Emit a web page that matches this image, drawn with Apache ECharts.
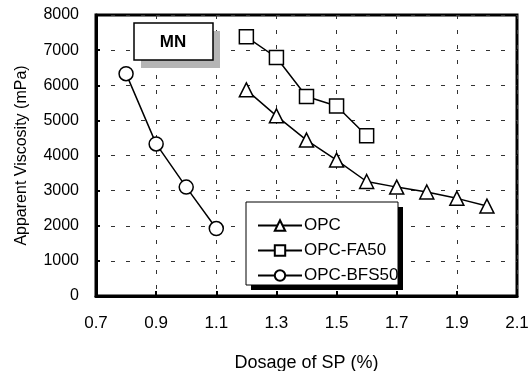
<!DOCTYPE html>
<html><head><meta charset="utf-8">
<script src="https://cdn.jsdelivr.net/npm/echarts@6/dist/echarts.min.js"></script>
<style>html,body{margin:0;padding:0;background:#fff}#c{width:531px;height:371px}</style>
</head><body><div id="c"></div>
<script>
const xOPC = [1.2, 1.3, 1.4, 1.5, 1.6, 1.7, 1.8, 1.9, 2.0];
const yOPC = [5870, 5130, 4440, 3870, 3260, 3100, 2960, 2780, 2560];
const xFA = [1.2, 1.3, 1.4, 1.5, 1.6];
const yFA = [7380, 6790, 5680, 5410, 4560];
const xBFS = [0.8, 0.9, 1.0, 1.1];
const yBFS = [6330, 4330, 3100, 1920];
const seriesNames = ['OPC', 'OPC-FA50', 'OPC-BFS50'];
const xTitle = 'Dosage of SP (%)';
const yTitle = 'Apparent Viscosity (mPa)';
const boxLabel = 'MN';

const pair = (xs, ys) => xs.map((x, i) => [x, ys[i]]);
const font = 'Liberation Sans, Arial, sans-serif';
const chart = echarts.init(document.getElementById('c'), null, {renderer: 'canvas'});
const common = {
  type: 'line', symbolSize: 14, lineStyle: {color: '#000', width: 1.5},
  itemStyle: {color: '#fff', borderColor: '#000', borderWidth: 1.5},
  color: '#000', z: 5
};
chart.setOption({
  animation: false,
  backgroundColor: '#fff',
  grid: {left: 96, top: 15, width: 421, height: 281, show: true, borderColor: '#000', borderWidth: 3, backgroundColor: 'transparent', containLabel: false, outerBoundsMode: 'none'},
  xAxis: {
    type: 'value', min: 0.7, max: 2.1, interval: 0.2,
    name: xTitle, nameLocation: 'middle', nameGap: 58,
    nameTextStyle: {fontFamily: font, fontSize: 18, color: '#000'},
    axisLine: {lineStyle: {color: '#000', width: 3}},
    axisTick: {inside: true, length: 5, lineStyle: {color: '#000', width: 2}},
    axisLabel: {fontFamily: font, fontSize: 17, color: '#000', margin: 19, formatter: v => v.toFixed(1)},
    splitLine: {show: true, lineStyle: {color: '#333', width: 1, type: [4, 11]}}
  },
  yAxis: {
    type: 'value', min: 0, max: 8000, interval: 1000,
    name: yTitle, nameLocation: 'middle', nameGap: 66,
    nameTextStyle: {fontFamily: font, fontSize: 16, color: '#000'},
    axisLine: {lineStyle: {color: '#000', width: 3}},
    axisTick: {inside: true, length: 4, lineStyle: {color: '#000', width: 2}},
    axisLabel: {fontFamily: font, fontSize: 16, color: '#000', margin: 17, formatter: v => String(v)},
    splitLine: {show: true, lineStyle: {color: '#333', width: 1, type: [4, 11]}}
  },
  legend: {
    orient: 'vertical', left: 252, top: 212, itemGap: 8, itemWidth: 44, itemHeight: 13, z: 30,
    textStyle: {fontFamily: font, fontSize: 17, color: '#000', padding: [0, 0, 0, -3]},
    data: seriesNames
  },
  graphic: [
    {type: 'rect', shape: {x: 251, y: 207, width: 152, height: 83}, style: {fill: '#000'}, z: 10},
    {type: 'rect', shape: {x: 246, y: 202, width: 152, height: 83}, style: {fill: '#fff', stroke: '#000', lineWidth: 1}, z: 11},
    {type: 'rect', shape: {x: 141, y: 31, width: 79, height: 37}, style: {fill: '#b5b5b5'}, z: 10},
    {type: 'rect', shape: {x: 134, y: 23, width: 79, height: 37}, style: {fill: '#fff', stroke: '#000', lineWidth: 1.5}, z: 11},
    {type: 'text', x: 173, y: 42, style: {text: boxLabel, fontFamily: font, fontSize: 17, fontWeight: 'bold', fill: '#000', align: 'center', verticalAlign: 'middle'}, z: 12}
  ],
  series: [
    Object.assign({}, common, {name: seriesNames[0], symbol: 'triangle', data: pair(xOPC, yOPC)}),
    Object.assign({}, common, {name: seriesNames[1], symbol: 'rect', data: pair(xFA, yFA)}),
    Object.assign({}, common, {name: seriesNames[2], symbol: 'circle', data: pair(xBFS, yBFS)})
  ]
});
</script></body></html>
